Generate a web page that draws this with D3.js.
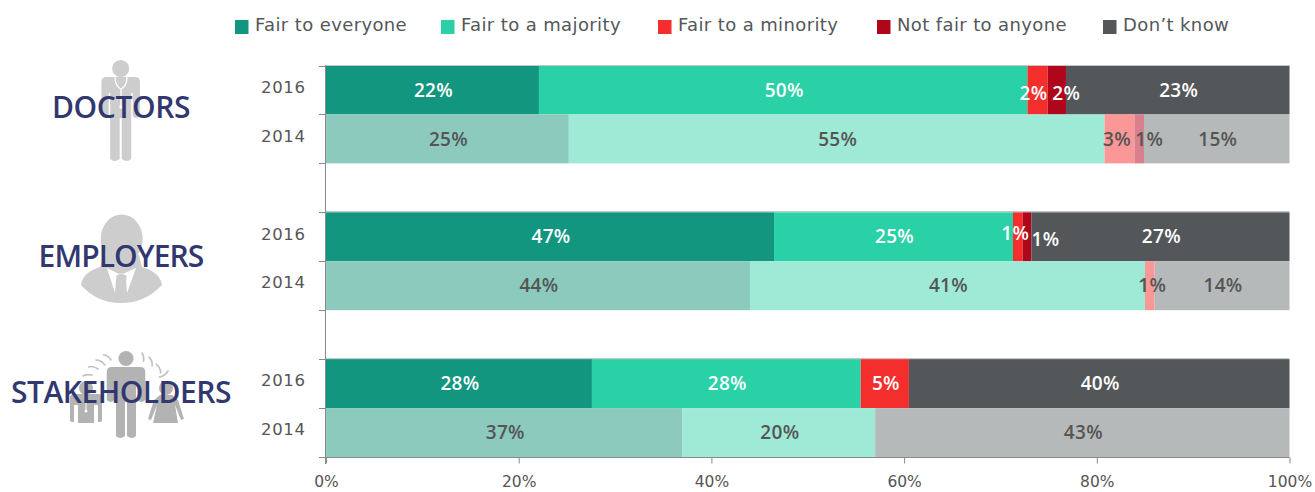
<!DOCTYPE html>
<html><head><meta charset="utf-8">
<script src="https://cdn.jsdelivr.net/npm/d3@7/dist/d3.min.js"></script>
<style>html,body{margin:0;padding:0;background:#fff}svg{display:block}</style></head>
<body><svg id="c" width="1315" height="492"></svg>
<script>
const seriesNames = ["Fair to everyone","Fair to a majority","Fair to a minority","Not fair to anyone","Don’t know"];
const rows = ["d16","d14","gap1","e16","e14","gap2","s16","s14"];
const rowYears = ["2016","2014","","2016","2014","","2016","2014"];
const groupNames = ["DOCTORS","EMPLOYERS","STAKEHOLDERS"];
const fairEveryone = [22.1,25.2,null,46.5,44,null,27.6,37];
const fairMajority = [50.7,55.6,null,24.8,41,null,27.9,20];
const fairMinority = [2.1,3.1,null,1,1,null,5,0];
const notFair      = [1.9,1,null,0.9,0,null,0,0];
const dontKnow     = [23.2,15.1,null,26.8,14,null,39.5,43];
const labelsEveryone = ["22%","25%","","47%","44%","","28%","37%"];
const labelsMajority = ["50%","55%","","25%","41%","","28%","20%"];
const labelsMinority = ["2%","3%","","1%","1%","","5%",""];
const labelsNotFair  = ["2%","1%","","1%","","","",""];
const labelsDontKnow = ["23%","15%","","27%","14%","","40%","43%"];
const xTicks = [0,20,40,60,80,100];
const strong = ["#12967f","#2ad0a6","#f42e2c","#b0061b","#54575a"];
const pale   = ["#8bcabc","#9fe9d7","#fb9797","#d8808d","#b6b9b9"];

const allValues=[fairEveryone,fairMajority,fairMinority,notFair,dontKnow];
const allLabels=[labelsEveryone,labelsMajority,labelsMinority,labelsNotFair,labelsDontKnow];
const svg=d3.select("#c");
const font="'DejaVu Sans',Verdana,sans-serif";
const x=d3.scaleLinear().domain([0,100]).range([326,1289.5]);
const y=d3.scaleBand().domain(rows).range([65.5,457]).padding(0);

// icons (behind titles)
const ic=svg.append("g");
function person(g,cx,headY,r,top,shW,armB,torW,bottom,fill){
  g.append("circle").attr("cx",cx).attr("cy",headY).attr("r",r).attr("fill",fill);
  const p=d3.path(),s=shW/2,t=torW/2,a=shW/2-torW/2-1.5;
  p.moveTo(cx-s+5,top);p.lineTo(cx+s-5,top);p.quadraticCurveTo(cx+s,top,cx+s,top+5);
  p.lineTo(cx+s,armB-2);p.quadraticCurveTo(cx+s-a/2,armB+2,cx+t+1.5,armB-2);
  p.lineTo(cx+t+1.5,top+16);p.lineTo(cx+t,top+16);p.lineTo(cx+t,bottom-3);
  p.quadraticCurveTo(cx+t-4,bottom+1,cx+1,bottom-3);p.lineTo(cx+1,armB);p.lineTo(cx-1,armB);p.lineTo(cx-1,bottom-3);
  p.quadraticCurveTo(cx-t+4,bottom+1,cx-t,bottom-3);p.lineTo(cx-t,top+16);p.lineTo(cx-t-1.5,top+16);
  p.lineTo(cx-t-1.5,armB-2);p.quadraticCurveTo(cx-s+a/2,armB+2,cx-s,armB-2);p.lineTo(cx-s,top+5);
  p.quadraticCurveTo(cx-s,top,cx-s+5,top);p.closePath();
  g.append("path").attr("d",p.toString()).attr("fill",fill);
}
person(ic,120.7,68.5,8.6,77,38.5,118,21,162,"#cdcdcd");
ic.append("path").attr("d","M115,77 Q115,86 121,89 Q127,86 127,77 M121,89 V106").attr("fill","none").attr("stroke","#fff").attr("stroke-width",1.3);
ic.append("circle").attr("cx",121).attr("cy",107).attr("r",1.8).attr("fill","#fff");
// employer
ic.append("ellipse").attr("cx",121.7).attr("cy",239).attr("rx",21).attr("ry",24.5).attr("fill","#cdcdcd");
ic.append("path").attr("d","M104,255 L139,255 L142,267 Q160,272 162,285 Q145,303 121,303 Q97,303 81,285 Q83,272 100,267Z").attr("fill","#cdcdcd");
ic.append("path").attr("d","M107,268 L115,293 L116,279 L121,273 L126,279 L127,293 L136,268 L127,272 Q121,276 115,272Z").attr("fill","#fff");
ic.append("path").attr("d","M116,276 Q121,272 127,276 L124.5,284 L127,294 L115.5,294 L118,284Z").attr("fill","#cdcdcd");
// stakeholders
person(ic,126,358.5,7.6,367,38.5,402,20,439,"#b3b3b3");
ic.append("circle").attr("cx",86).attr("cy",388).attr("r",7).attr("fill","#b3b3b3");
ic.append("path").attr("d","M74,394 H98 Q102,394 102,398 V420 Q102,422 100,422 H98 V405 H94 V423 H78 V405 H74 V422 H72 Q70,422 70,420 V398 Q70,394 74,394Z").attr("fill","#b3b3b3");
ic.append("path").attr("d","M86,396 V410").attr("stroke","#fff").attr("stroke-width",1).attr("fill","none");
ic.append("circle").attr("cx",86).attr("cy",411).attr("r",1.5).attr("fill","#fff");
ic.append("circle").attr("cx",166).attr("cy",388).attr("r",7).attr("fill","#b3b3b3");
ic.append("path").attr("d","M160,395 H172 L178,400 L184,419 L181,420 L175,405 L178,423 H153 L157,405 L151,420 L148,419 L154,400Z").attr("fill","#b3b3b3");
ic.append("path").attr("fill","none").attr("stroke","#c0c0c0").attr("stroke-width",1.6).attr("stroke-linecap","round")
  .attr("d","M103.5,355 Q108,355 111,360 M96,360 Q101,360 105,365 M88.5,367 Q93,365.5 98,369 M83,376 Q87,374 92,375 M142,353 Q144.5,357 143.5,361 M149,357 Q153,361 152,366 M156,364 Q161,368 160.5,373 M159.5,377 Q165,376 168,371");

// bars
const gb=svg.append("g");
rows.forEach((r,i)=>{
  if(allValues[0][i]===null)return;
  let cum=0;
  allValues.forEach((vals,k)=>{
    const v=vals[i]; if(!v){return;}
    gb.append("rect").attr("x",x(cum)).attr("width",x(cum+v)-x(cum)).attr("y",y(r)).attr("height",y.bandwidth())
      .attr("fill",(i%3===0?strong:pale)[k]);
    cum+=v;
  });
  if(i%3===0) gb.append("line").attr("x1",x(0)).attr("x2",x(100)).attr("y1",Math.round(y(r))-.5).attr("y2",Math.round(y(r))-.5).attr("stroke","#c4c7c7");
});
// axes
const xAxis=d3.axisBottom(x).tickValues(xTicks).tickFormat(d=>d+"%").tickSize(6).tickPadding(12);
const gx=svg.append("g").attr("transform","translate(0,457.5)").call(xAxis);
gx.select(".domain").remove();
gx.selectAll("line").attr("stroke","#8a8a8a");
gx.selectAll("text").attr("fill","#555").style("font",`15.5px ${font}`);
const edges=d3.range(rows.length+1).map(i=>65.5+i*y.step());
const ga=svg.append("g");
ga.append("line").attr("x1",325.5).attr("x2",1289.5).attr("y1",457.5).attr("y2",457.5).attr("stroke","#8a8a8a");
ga.append("line").attr("x1",325.5).attr("x2",325.5).attr("y1",65).attr("y2",464).attr("stroke","#8a8a8a");
ga.selectAll(".t").data(edges).join("line").attr("x1",319).attr("x2",325.5).attr("y1",d=>Math.round(d)+.5).attr("y2",d=>Math.round(d)+.5).attr("stroke","#8a8a8a");
rows.forEach((r,i)=>{ if(!rowYears[i])return;
  svg.append("text").attr("x",305.5).attr("y",y(r)+y.bandwidth()/2-3).attr("dy","0.35em").attr("text-anchor","end")
   .attr("fill","#555").style("font",`16.5px ${font}`).style("letter-spacing","0.6px").text(rowYears[i]);
});
// data labels
const nudge={ "0,2":[-5,3],"0,3":[8.5,3],"1,2":[-3.5,0],"1,3":[9,0],"3,2":[-3.5,-3],"3,3":[17.5,3],"4,2":[1.5,0] };
rows.forEach((r,i)=>{
  let cum=0;
  allValues.forEach((vals,k)=>{
    const v=vals[i]; if(!v)return;
    const t=allLabels[k][i], n=nudge[i+","+k]||[0,0];
    if(t) svg.append("text").attr("x",x(cum+v/2)+n[0]+1).attr("y",y(r)+y.bandwidth()/2+n[1]).attr("dy","0.35em").attr("text-anchor","middle")
      .attr("fill",i%3===0?"#fff":"#555").style("font",`600 19px 'Open Sans',sans-serif`).style("letter-spacing","0.3px").text(t);
    cum+=v;
  });
});
// titles
const tc=[[121,107],[121,256],[121,392]];
const titleSpacing=[-0.4,-0.9,-0.5];
groupNames.forEach((g,i)=>svg.append("text").attr("x",tc[i][0]).attr("y",tc[i][1]).attr("dy","0.35em").attr("text-anchor","middle")
  .attr("fill","#32386f").style("font","600 30px 'Open Sans',sans-serif").style("letter-spacing",titleSpacing[i]+"px").text(g));
// legend
const lx=[235,441,658,877,1103];
seriesNames.forEach((s,i)=>{
  svg.append("rect").attr("x",lx[i]).attr("y",20).attr("width",13.5).attr("height",14).attr("fill",strong[i]);
  svg.append("text").attr("x",lx[i]+20).attr("y",31).attr("fill","#54575a").style("font",`18px ${font}`).style("letter-spacing","0.38px").text(s);
});
</script></body></html>
